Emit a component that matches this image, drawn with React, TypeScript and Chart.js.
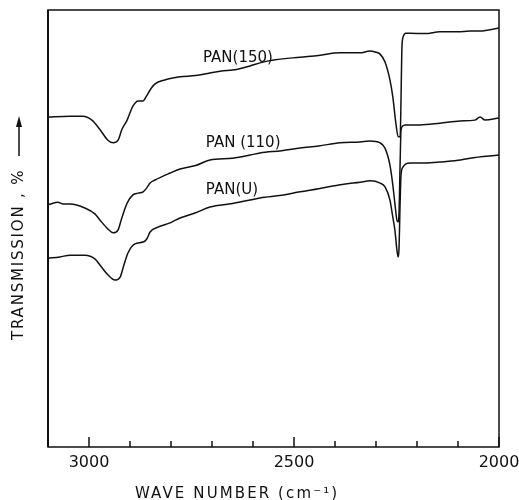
import React, { useEffect, useRef } from "react";
import { Chart, registerables } from "chart.js";

Chart.register(...registerables);

// PAN(150)
const wn150 = [3100, 3046, 3015, 2993, 2973, 2954, 2941, 2929, 2920, 2907, 2893, 2880, 2868, 2861, 2851, 2839, 2815, 2778, 2740, 2705, 2680, 2640, 2607, 2583, 2546, 2485, 2440, 2388, 2339, 2315, 2302, 2290, 2278, 2266, 2259, 2251, 2246, 2241, 2239, 2237, 2234, 2227, 2217, 2180, 2144, 2100, 2071, 2046, 2000];
const t150 = [75.5, 75.7, 75.7, 74.8, 72.6, 70.2, 69.6, 70.2, 72.6, 74.8, 78.0, 79.2, 79.2, 80.1, 81.7, 83.1, 84.0, 84.7, 85.0, 85.6, 86.0, 86.4, 87.2, 87.9, 88.6, 89.2, 89.6, 90.2, 90.2, 90.6, 90.4, 89.9, 88.1, 84.0, 80.1, 73.7, 71.0, 71.1, 79.4, 90.8, 93.8, 94.7, 94.7, 94.6, 95.0, 95.0, 95.2, 95.2, 95.9];

// PAN(110)
const wn110 = [3100, 3088, 3076, 3063, 3046, 3010, 2985, 2973, 2954, 2941, 2929, 2920, 2907, 2893, 2880, 2868, 2859, 2851, 2839, 2802, 2778, 2740, 2705, 2650, 2607, 2583, 2530, 2485, 2440, 2388, 2339, 2315, 2290, 2278, 2266, 2259, 2254, 2249, 2246, 2244, 2241, 2239, 2234, 2229, 2193, 2144, 2095, 2059, 2046, 2034, 2000];
const t110 = [55.4, 55.8, 56.0, 55.6, 55.6, 54.7, 53.3, 51.9, 49.9, 49.0, 49.7, 52.4, 55.8, 57.7, 58.1, 58.4, 59.3, 60.4, 61.1, 62.7, 63.6, 64.4, 65.7, 66.1, 66.8, 67.3, 67.8, 68.4, 68.9, 69.6, 69.8, 70.0, 69.6, 68.4, 64.5, 60.0, 55.8, 51.9, 51.5, 53.1, 65.7, 72.5, 73.5, 73.7, 73.7, 74.1, 74.6, 74.8, 75.5, 74.8, 75.3];

// PAN(U)
const wnU = [3100, 3071, 3046, 3010, 2985, 2973, 2954, 2937, 2924, 2915, 2905, 2888, 2868, 2859, 2851, 2832, 2802, 2778, 2740, 2705, 2650, 2607, 2583, 2530, 2485, 2440, 2388, 2339, 2315, 2290, 2278, 2266, 2259, 2254, 2249, 2246, 2244, 2241, 2239, 2234, 2227, 2217, 2180, 2144, 2100, 2071, 2000];
const tU = [43.2, 43.5, 43.9, 43.9, 43.0, 41.6, 39.4, 38.2, 38.9, 41.6, 44.4, 46.5, 46.9, 47.6, 49.2, 50.3, 51.3, 52.4, 53.6, 54.9, 55.7, 56.5, 57.0, 57.6, 58.4, 59.1, 60.0, 60.6, 60.9, 60.4, 59.5, 56.5, 52.6, 49.7, 45.1, 43.5, 45.1, 56.5, 62.2, 64.1, 64.8, 65.0, 65.0, 65.2, 65.6, 66.1, 66.8];

const seriesNames = ["PAN(150)", "PAN (110)", "PAN(U)"];
// label anchor in data units: [wavenumber at left of text, transmission at text middle]
const labelAnchors = [
  [2722, 89.0],
  [2715, 69.6],
  [2715, 58.8],
];

const xMin = 2000;
const xMax = 3100;
const majorTicks = [3000, 2500, 2000];
const yTitle = "TRANSMISSION , %";
const xTitle = "WAVE NUMBER (cm⁻¹)";

const toPts = (xs: number[], ys: number[]) => xs.map((x, i) => ({ x, y: ys[i] }));

export default function App() {
  const ref = useRef<HTMLCanvasElement | null>(null);

  useEffect(() => {
    if (!ref.current) return;
    const decor = {
      id: "decor",
      afterDraw(chart: any) {
        const ctx = chart.ctx;
        const a = chart.chartArea;
        const xs = chart.scales.x;
        const ys = chart.scales.y;
        ctx.save();
        ctx.strokeStyle = "#111";
        ctx.fillStyle = "#111";
        // frame
        ctx.lineWidth = 1.5;
        ctx.strokeRect(a.left, a.top, a.right - a.left, a.bottom - a.top);
        ctx.lineWidth = 2;
        ctx.beginPath();
        ctx.moveTo(a.left, a.top);
        ctx.lineTo(a.left, a.bottom);
        ctx.stroke();
        // inward ticks
        ctx.lineWidth = 1.5;
        for (let v = xMin; v <= xMax; v += 100) {
          const px = xs.getPixelForValue(v);
          const len = majorTicks.includes(v) ? 10 : 6;
          ctx.beginPath();
          ctx.moveTo(px, a.bottom);
          ctx.lineTo(px, a.bottom - len);
          ctx.stroke();
        }
        // series labels
        ctx.font = "15px 'DejaVu Sans'";
        ctx.textBaseline = "middle";
        ctx.textAlign = "left";
        seriesNames.forEach((n, i) => {
          ctx.fillText(n, xs.getPixelForValue(labelAnchors[i][0]), ys.getPixelForValue(labelAnchors[i][1]));
        });
        // x title
        ctx.save();
        ctx.font = "15px 'DejaVu Sans'";
        (ctx as any).letterSpacing = "2.1px";
        ctx.textAlign = "left";
        ctx.textBaseline = "alphabetic";
        ctx.fillText(xTitle, 135, 498);
        ctx.restore();
        // y title
        ctx.save();
        ctx.translate(19, 340);
        ctx.rotate(-Math.PI / 2);
        ctx.font = "15px 'DejaVu Sans'";
        (ctx as any).letterSpacing = "1.8px";
        ctx.textAlign = "left";
        ctx.textBaseline = "middle";
        ctx.fillText(yTitle, 0, 0);
        ctx.restore();
        // arrow
        ctx.lineWidth = 1.5;
        ctx.beginPath();
        ctx.moveTo(19, 156);
        ctx.lineTo(19, 124);
        ctx.stroke();
        ctx.beginPath();
        ctx.moveTo(19, 116);
        ctx.lineTo(16, 127);
        ctx.lineTo(22, 127);
        ctx.closePath();
        ctx.fill();
        ctx.restore();
      },
    };

    const chart = new Chart(ref.current, {
      type: "line",
      data: {
        datasets: [
          { label: seriesNames[0], data: toPts(wn150, t150) },
          { label: seriesNames[1], data: toPts(wn110, t110) },
          { label: seriesNames[2], data: toPts(wnU, tU) },
        ].map((d) => ({
          ...d,
          borderColor: "#111",
          borderWidth: 1.5,
          pointRadius: 0,
          cubicInterpolationMode: "monotone" as const,
          fill: false,
        })),
      },
      options: {
        animation: false,
        responsive: false,
        devicePixelRatio: 1,
        layout: { padding: { left: 48, right: 20, top: 10, bottom: 0 } },
        plugins: { legend: { display: false }, tooltip: { enabled: false } },
        scales: {
          x: {
            type: "linear",
            reverse: true,
            min: xMin,
            max: xMax,
            grid: { display: false },
            border: { display: false },
            afterFit: (s: any) => {
              s.height = 53;
            },
            afterBuildTicks: (s: any) => {
              const t = [];
              for (let v = xMin; v <= xMax; v += 100) t.push({ value: v });
              s.ticks = t;
            },
            ticks: {
              autoSkip: false,
              maxRotation: 0,
              minRotation: 0,
              padding: -2,
              color: "#111",
              font: { family: "'DejaVu Sans'", size: 16 },
              callback: (v: any) => (majorTicks.includes(Number(v)) ? String(v) : ""),
            },
            title: { display: false },
          },
          y: {
            display: false,
            min: 0,
            max: 100,
          },
        },
      },
      plugins: [decor],
    });
    return () => chart.destroy();
  }, []);

  return (
    <div style={{ position: "absolute", left: 0, top: 0, width: 519, height: 500, background: "#fff" }}>
      <canvas ref={ref} width={519} height={500} />
    </div>
  );
}
